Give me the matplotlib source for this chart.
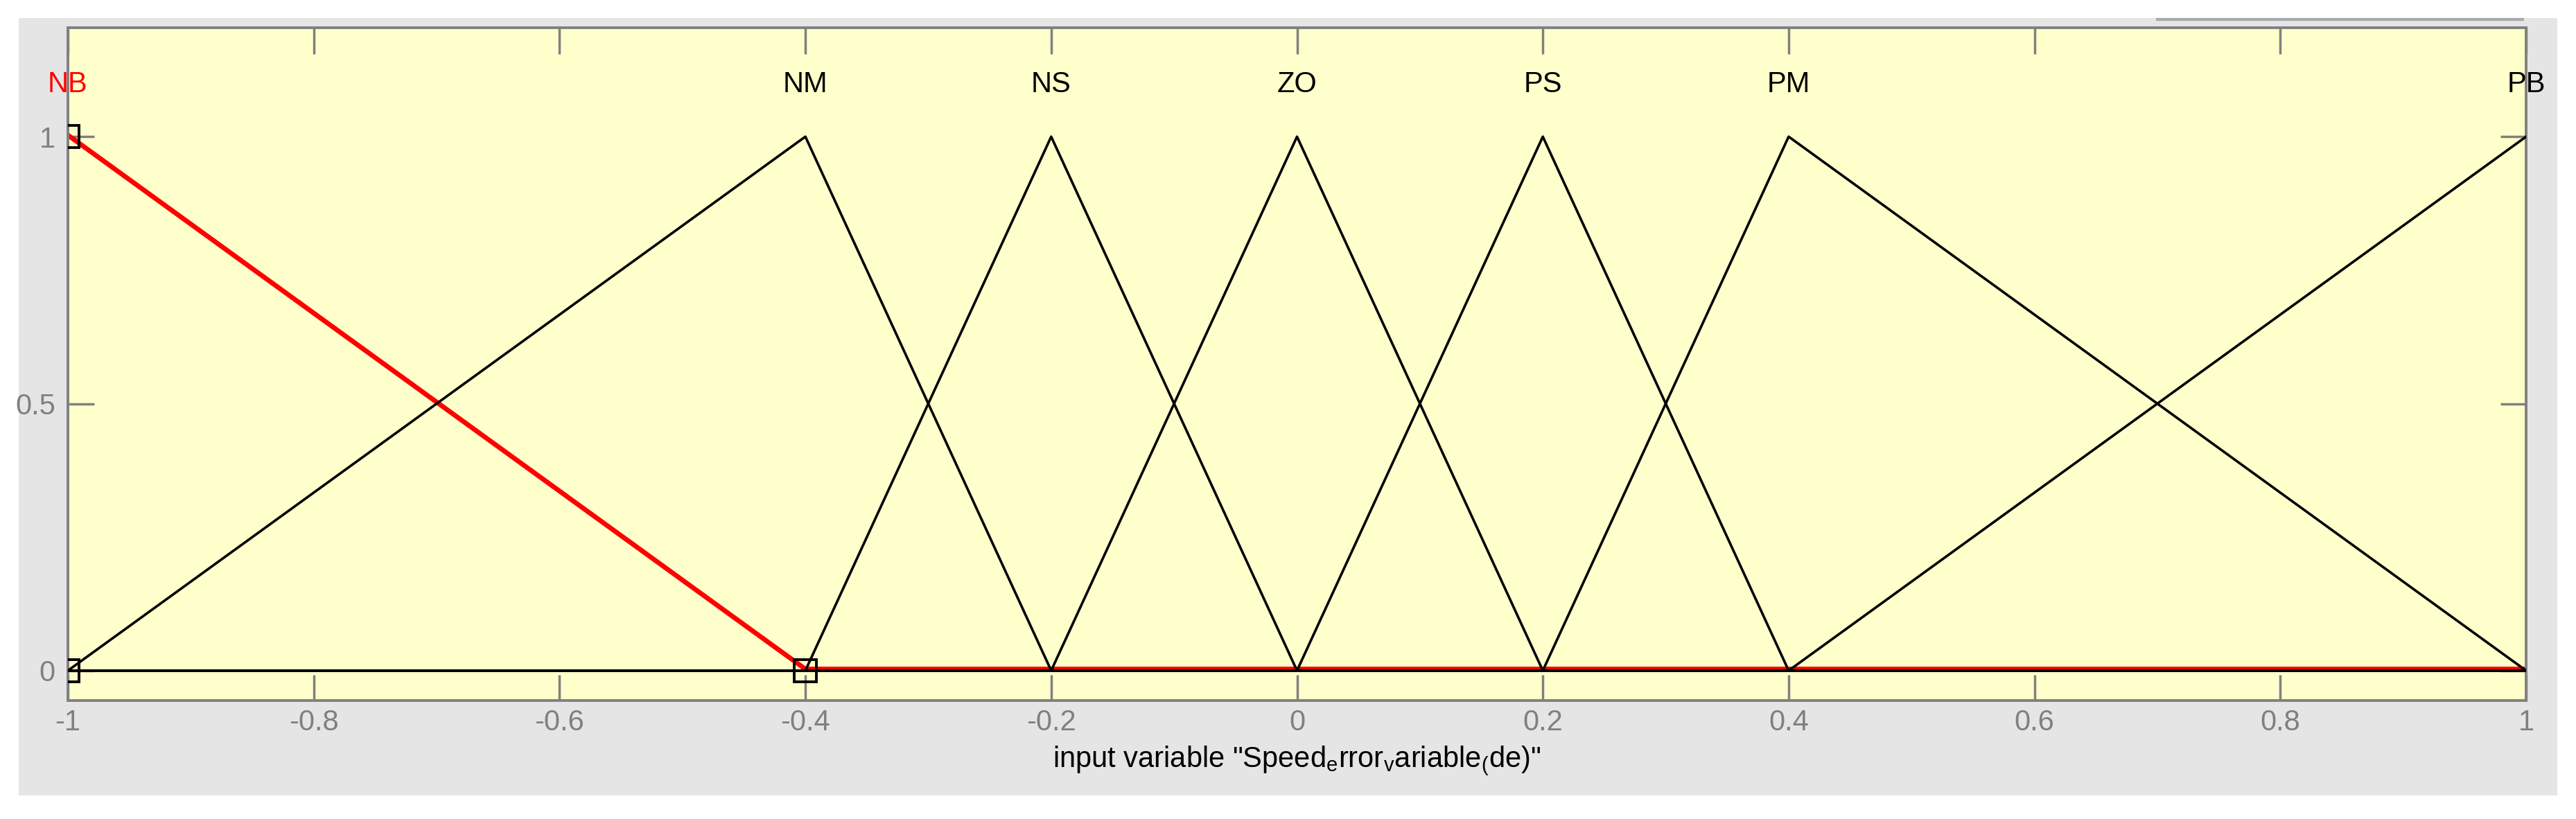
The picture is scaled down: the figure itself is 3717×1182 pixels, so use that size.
import numpy as np
import matplotlib
matplotlib.use("Agg")
import matplotlib.pyplot as plt
import matplotlib.transforms as mtransforms
from matplotlib.patches import Rectangle
from matplotlib.lines import Line2D

plt.rcParams['font.family'] = ['Liberation Sans', 'DejaVu Sans']
plt.rcParams['axes.unicode_minus'] = False
plt.rcParams['mathtext.fontset'] = 'custom'
plt.rcParams['mathtext.rm'] = 'Liberation Sans'
plt.rcParams['mathtext.default'] = 'regular'

# membership functions (trimf params a, b, c)
mf_names = ['NB', 'NM', 'NS', 'ZO', 'PS', 'PM', 'PB']
mf_params = [[-1.0, -1.0, -0.4],
             [-1.0, -0.4, -0.2],
             [-0.4, -0.2, 0.0],
             [-0.2, 0.0, 0.2],
             [0.0, 0.2, 0.4],
             [0.2, 0.4, 1.0],
             [0.4, 1.0, 1.0]]
selected = 0  # NB highlighted
x_range = [-1, 1]
xticks = [-1, -0.8, -0.6, -0.4, -0.2, 0, 0.2, 0.4, 0.6, 0.8, 1]
xtick_labels = ['-1', '-0.8', '-0.6', '-0.4', '-0.2', '0', '0.2', '0.4', '0.6', '0.8', '1']
yticks = [0, 0.5, 1]
ytick_labels = ['0', '0.5', '1']


def trimf(x, p):
    a, b, c = p
    if x == b:
        return 1.0
    if a < x < b:
        return (x - a) / (b - a)
    if b < x < c:
        return (c - x) / (c - b)
    return 0.0


def mf_line(p):
    xs = sorted(set([x_range[0], x_range[1]] + list(p)))
    ys = [trimf(x, p) for x in xs]
    return xs, ys


W, H = 3717, 1182
fig = plt.figure(figsize=(W / 100, H / 100), dpi=100)
fig.patch.set_facecolor('white')
fig.add_artist(Rectangle((27 / W, 1 - 1148 / H), (3690 - 27) / W, (1148 - 26) / H,
                         transform=fig.transFigure, facecolor='#e5e5e5',
                         edgecolor='none', zorder=-10))
fig.add_artist(Line2D([3113 / W, 3640 / W], [1 - 28 / H, 1 - 28 / H],
                      transform=fig.transFigure, color='#a8a9ae', lw=3, zorder=-5))

ax = fig.add_axes([98 / W, 1 - 1011 / H, (3645 - 98) / W, (1011 - 40) / H])
ax.set_facecolor('#ffffcc')

# selected mf in red, underneath, nudged up a little
shift = mtransforms.ScaledTranslation(0, 2.2 / 100, fig.dpi_scale_trans)
xs, ys = mf_line(mf_params[selected])
ax.plot(xs, ys, color='red', lw=5, zorder=2, transform=ax.transData + shift)
for i, p in enumerate(mf_params):
    if i == selected:
        continue
    xs, ys = mf_line(p)
    ax.plot(xs, ys, color='black', lw=2.6, zorder=3)

# vertex markers of selected mf
a, b, c = mf_params[selected]
ax.plot([a, b, c], [0, 1, 0], linestyle='none', marker='s', ms=23,
        mfc='none', mec='black', mew=2.8, zorder=4)

for i, (name, p) in enumerate(zip(mf_names, mf_params)):
    ax.text(p[1], 1.083, name, ha='center', va='baseline', fontsize=30,
            color='red' if i == selected else 'black', clip_on=False)

ax.set_xlim(-1, 1)
ax.set_ylim(-0.056, 1.204)
ax.set_xticks(xticks)
ax.set_xticklabels(xtick_labels)
ax.set_yticks(yticks)
ax.set_yticklabels(ytick_labels)
ax.tick_params(direction='in', length=27, width=2.5, color='#808080',
               labelcolor='#808080', labelsize=30, top=True, right=True)
ax.tick_params(axis='x', pad=9)
ax.tick_params(axis='y', pad=13)
for s in ax.spines.values():
    s.set_color('#808080')
    s.set_linewidth(2.8)

ax.set_xlabel(r'input variable "Speed$_{e}$rror$_{v}$ariable$_{(}$de)"',
              fontsize=30, labelpad=8)

fig.savefig('out.png', dpi=100)
